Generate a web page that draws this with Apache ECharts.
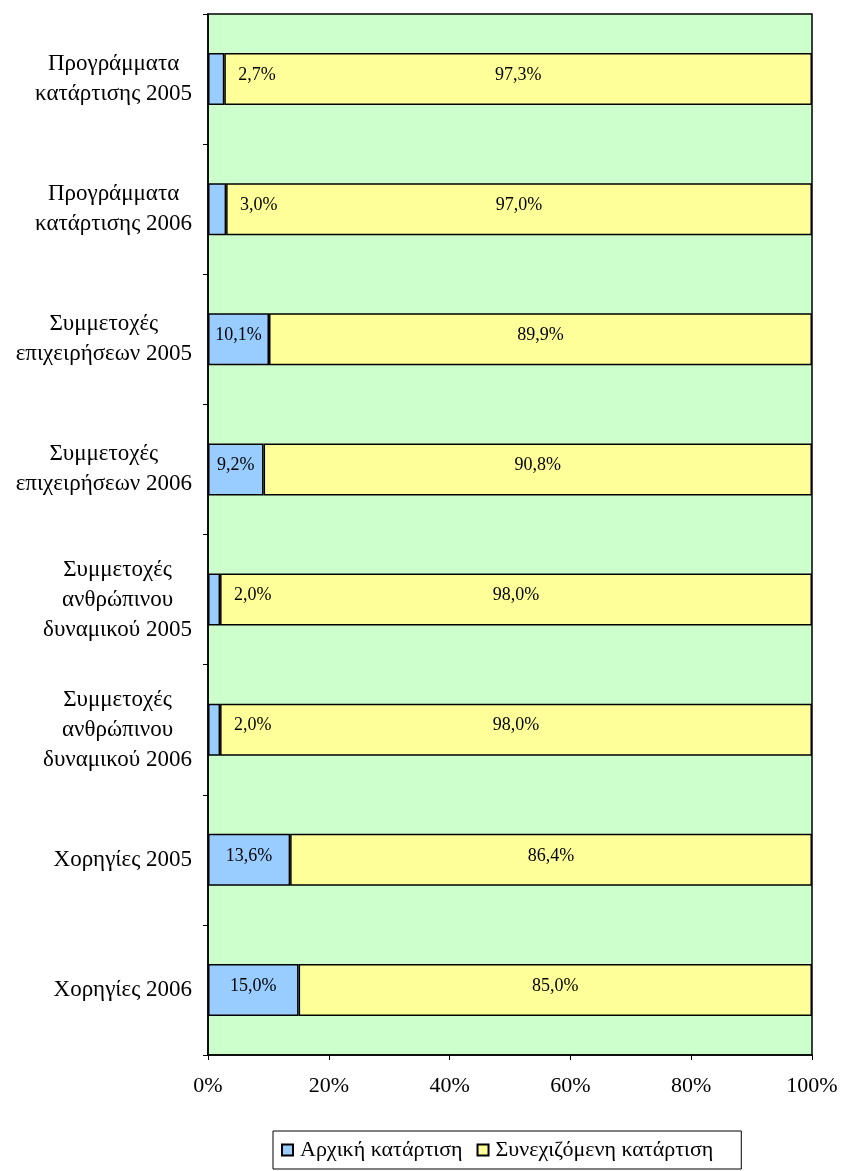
<!DOCTYPE html>
<html>
<head>
<meta charset="utf-8">
<script src="https://cdn.jsdelivr.net/npm/echarts@6/dist/echarts.min.js"></script>
<style>
  html, body { margin: 0; padding: 0; background: #fff; }
  #chart { width: 842px; height: 1171px; }
</style>
</head>
<body>
<div id="chart"></div>
<script>
// κατηγορίες (από πάνω προς τα κάτω)
const categories = [
    'Προγράμματα\nκατάρτισης 2005',
    'Προγράμματα\nκατάρτισης 2006',
    'Συμμετοχές\nεπιχειρήσεων 2005',
    'Συμμετοχές\nεπιχειρήσεων 2006',
    'Συμμετοχές\nανθρώπινου\nδυναμικού 2005',
    'Συμμετοχές\nανθρώπινου\nδυναμικού 2006',
    'Χορηγίες 2005',
    'Χορηγίες 2006'
];
const initialTraining = [2.7, 3.0, 10.1, 9.2, 2.0, 2.0, 13.6, 15.0];
const continuingTraining = [97.3, 97.0, 89.9, 90.8, 98.0, 98.0, 86.4, 85.0];
const seriesNames = ['Αρχική κατάρτιση', 'Συνεχιζόμενη κατάρτιση'];
const xTicks = [0, 20, 40, 60, 80, 100];

const fmt = v => v.toFixed(1).replace('.', ',') + '%';
const serif = 'Liberation Serif, Times New Roman, serif';

document.addEventListener('DOMContentLoaded', function() {
    const chart = echarts.init(document.getElementById('chart'));

    // μικρές τιμές: η ετικέτα βγαίνει δεξιά από τη μπάρα
    const blueData = initialTraining.map(v => {
        if (v >= 9) {
            return { value: v, label: { position: 'inside', offset: [0, -4] } };
        }
        return { value: v, label: { position: 'right', distance: 14, offset: [0, -4] } };
    });

    const option = {
        animation: false,
        backgroundColor: '#fff',
        grid: {
            left: 208,
            right: 30,
            top: 14,
            bottom: 116,
            show: true,
            backgroundColor: '#ccffcc',
            borderColor: '#000',
            borderWidth: 1.5
        },
        legend: {
            data: seriesNames,
            left: 273,
            top: 1131,
            padding: [8, 28, 8, 8],
            borderColor: '#000',
            borderWidth: 1,
            itemWidth: 11,
            itemHeight: 11,
            itemGap: 14,
            icon: 'rect',
            textStyle: { fontFamily: serif, fontSize: 22, color: '#000', padding: [0, 0, 0, 2] }
        },
        xAxis: {
            type: 'value',
            min: 0,
            max: 100,
            interval: 20,
            axisLine: { show: true, lineStyle: { color: '#000', width: 1.5 } },
            axisTick: { show: true, length: 5, lineStyle: { color: '#000' } },
            splitLine: { show: false },
            axisLabel: {
                fontFamily: serif,
                fontSize: 22,
                color: '#000',
                margin: 20,
                formatter: v => xTicks.includes(v) ? v + '%' : ''
            }
        },
        yAxis: {
            type: 'category',
            inverse: true,
            data: categories,
            axisLine: { show: true, lineStyle: { color: '#000', width: 1.5 } },
            axisTick: { show: true, length: 5, lineStyle: { color: '#000' } },
            axisLabel: {
                margin: 16,
                align: 'right',
                formatter: function(value) {
                    return value.split('\n').map(l => '{c|' + l + '}').join('\n');
                },
                rich: {
                    c: {
                        fontFamily: serif,
                        fontSize: 23,
                        color: '#000',
                        align: 'center',
                        lineHeight: 30
                    }
                }
            }
        },
        series: [
            {
                name: seriesNames[0],
                type: 'bar',
                stack: 'total',
                barCategoryGap: '60%',
                data: blueData,
                itemStyle: { color: '#99ccff', borderColor: '#000', borderWidth: 1.5 },
                label: {
                    show: true,
                    fontFamily: serif,
                    fontSize: 18,
                    color: '#000',
                    formatter: p => fmt(p.value)
                }
            },
            {
                name: seriesNames[1],
                type: 'bar',
                stack: 'total',
                barCategoryGap: '60%',
                data: continuingTraining,
                itemStyle: { color: '#ffff99', borderColor: '#000', borderWidth: 1.5 },
                label: {
                    show: true,
                    position: 'inside',
                    offset: [0, -4],
                    fontFamily: serif,
                    fontSize: 18,
                    color: '#000',
                    formatter: p => fmt(p.value)
                }
            }
        ]
    };

    chart.setOption(option);

    window.addEventListener('resize', function() {
        chart.resize();
    });
});
</script>
</body>
</html>
